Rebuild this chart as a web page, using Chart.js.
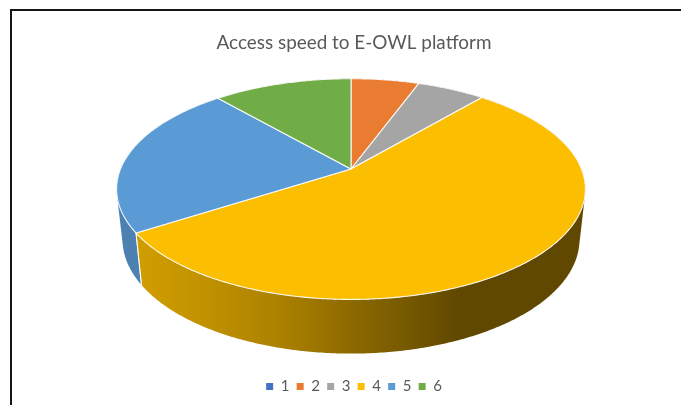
<!DOCTYPE html>
<html>
<head>
<meta charset="utf-8">
<title>Access speed to E-OWL platform</title>
<script src="https://cdn.jsdelivr.net/npm/chart.js@4"></script>
<style>
  html, body { margin: 0; padding: 0; background: #fff; overflow: hidden; }
  #wrap { position: relative; width: 681px; height: 405px; }
  #frame { position: absolute; left: 10px; top: 9px; right: 0; bottom: 0; border-left: 2px solid #151515; border-top: 2px solid #151515; }
  #speedChart { position: absolute; left: 0; top: 0; }
</style>
</head>
<body>
<div id="wrap">
  <div id="frame"></div>
  <canvas id="speedChart" width="681" height="405"></canvas>
</div>
<script>
const chartTitle = "Access speed to E-OWL platform";
const categories = ["1", "2", "3", "4", "5", "6"];
const shares = [0, 5.6, 5.6, 54.7, 22.7, 11.4];
const sliceColors = ["#4472C4", "#EA7C31", "#A5A5A5", "#FCBE00", "#5B9BD5", "#70AD47"];

// the pie is tilted: rims are perspective circles, sizes given for a radius of refRadius
const refRadius = 154.7;
const perspective = 0.1818;
const topRim = { rx: 229.8, ry: 106.4, dy: -47.4 };
const baseRim = { rx: 224, ry: 110, dy: 2.2 };
const centerShift = -3;

// side wall brightness from left to right across the pie
const wallShade = [[137, 0.83], [200, 0.77], [280, 0.68], [350, 0.56], [460, 0.38], [585, 0.38]];

function rimPoint(arc, rim, angle) {
    const unit = arc.outerRadius / refRadius;
    const w = 1 - perspective * Math.sin(angle);
    return {
        x: arc.x + centerShift + unit * rim.rx * Math.cos(angle) / w,
        y: arc.y + unit * (rim.dy + rim.ry * Math.sin(angle) / w)
    };
}

function wallFill(ctx, hex) {
    const r = parseInt(hex.slice(1, 3), 16);
    const g = parseInt(hex.slice(3, 5), 16);
    const b = parseInt(hex.slice(5, 7), 16);
    const grad = ctx.createLinearGradient(137, 0, 585, 0);
    wallShade.forEach(function (s) {
        const k = s[1];
        grad.addColorStop((s[0] - 137) / (585 - 137),
            "rgb(" + Math.round(r * k) + "," + Math.round(g * k) + "," + Math.round(b * k) + ")");
    });
    return grad;
}

// all quads go in one path, wound the same way, so no seams show between them
function drawWall(ctx, arc, color) {
    const steps = Math.max(2, Math.ceil((arc.endAngle - arc.startAngle) / 0.01));
    ctx.beginPath();
    for (let i = 0; i < steps; i++) {
        const a0 = arc.startAngle + (arc.endAngle - arc.startAngle) * i / steps;
        const a1 = arc.startAngle + (arc.endAngle - arc.startAngle) * (i + 1) / steps;
        const p = [rimPoint(arc, topRim, a0), rimPoint(arc, topRim, a1),
                   rimPoint(arc, baseRim, a1), rimPoint(arc, baseRim, a0)];
        let area = 0;
        for (let j = 0; j < 4; j++) {
            const q = p[(j + 1) % 4];
            area += p[j].x * q.y - q.x * p[j].y;
        }
        if (area < 0) p.reverse();
        ctx.moveTo(p[0].x, p[0].y);
        for (let j = 1; j < 4; j++) ctx.lineTo(p[j].x, p[j].y);
        ctx.closePath();
    }
    ctx.fillStyle = wallFill(ctx, color);
    ctx.fill();
}

function drawFace(ctx, arc, color) {
    const apex = { x: arc.x + centerShift, y: arc.y + arc.outerRadius / refRadius * topRim.dy };
    const steps = Math.max(2, Math.ceil((arc.endAngle - arc.startAngle) / 0.01));
    ctx.beginPath();
    ctx.moveTo(apex.x, apex.y);
    for (let i = 0; i <= steps; i++) {
        const p = rimPoint(arc, topRim, arc.startAngle + (arc.endAngle - arc.startAngle) * i / steps);
        ctx.lineTo(p.x, p.y);
    }
    ctx.closePath();
    ctx.fillStyle = color;
    ctx.fill();
    ctx.strokeStyle = "rgba(255,255,255,0.9)";
    ctx.lineWidth = 1.1;
    ctx.lineJoin = "round";
    ctx.stroke();
}

// white seam where two slices meet on the wall
function drawSeam(ctx, arc) {
    [arc.startAngle, arc.endAngle].forEach(function (a) {
        if (Math.sin(a) < 0) return;
        const p0 = rimPoint(arc, topRim, a);
        const p1 = rimPoint(arc, baseRim, a);
        ctx.beginPath();
        ctx.moveTo(p0.x, p0.y);
        ctx.lineTo(p1.x, p1.y);
        ctx.strokeStyle = "rgba(255,255,255,0.85)";
        ctx.lineWidth = 1;
        ctx.stroke();
    });
}

const tiltedPie = {
    id: "tiltedPie",
    beforeDatasetDraw(chart, args) {
        const ctx = chart.ctx;
        const arcs = args.meta.data.filter(function (a) { return a.circumference > 0; });
        const colors = sliceColors.filter(function (c, i) { return args.meta.data[i].circumference > 0; });
        ctx.save();
        arcs.forEach(function (arc, i) { drawWall(ctx, arc, colors[i]); });
        arcs.forEach(function (arc) { drawSeam(ctx, arc); });
        arcs.forEach(function (arc, i) { drawFace(ctx, arc, colors[i]); });
        ctx.restore();
        return false;
    }
};

new Chart(document.getElementById("speedChart").getContext("2d"), {
    type: "pie",
    data: {
        labels: categories,
        datasets: [{ data: shares, backgroundColor: sliceColors, borderWidth: 0 }]
    },
    plugins: [tiltedPie],
    options: {
        responsive: false,
        animation: false,
        layout: { padding: { left: 27, right: 0, top: 0, bottom: 1 } },
        plugins: {
            title: {
                display: true,
                text: chartTitle,
                color: "#595959",
                font: { family: "Lato", size: 18.9, weight: "normal" },
                padding: { top: 32, bottom: 6.7 }
            },
            legend: {
                position: "bottom",
                labels: {
                    boxWidth: 7,
                    boxHeight: 7,
                    padding: 7.3,
                    color: "#595959",
                    font: { family: "Lato", size: 15 }
                }
            },
            tooltip: { enabled: false }
        }
    }
});
</script>
</body>
</html>
